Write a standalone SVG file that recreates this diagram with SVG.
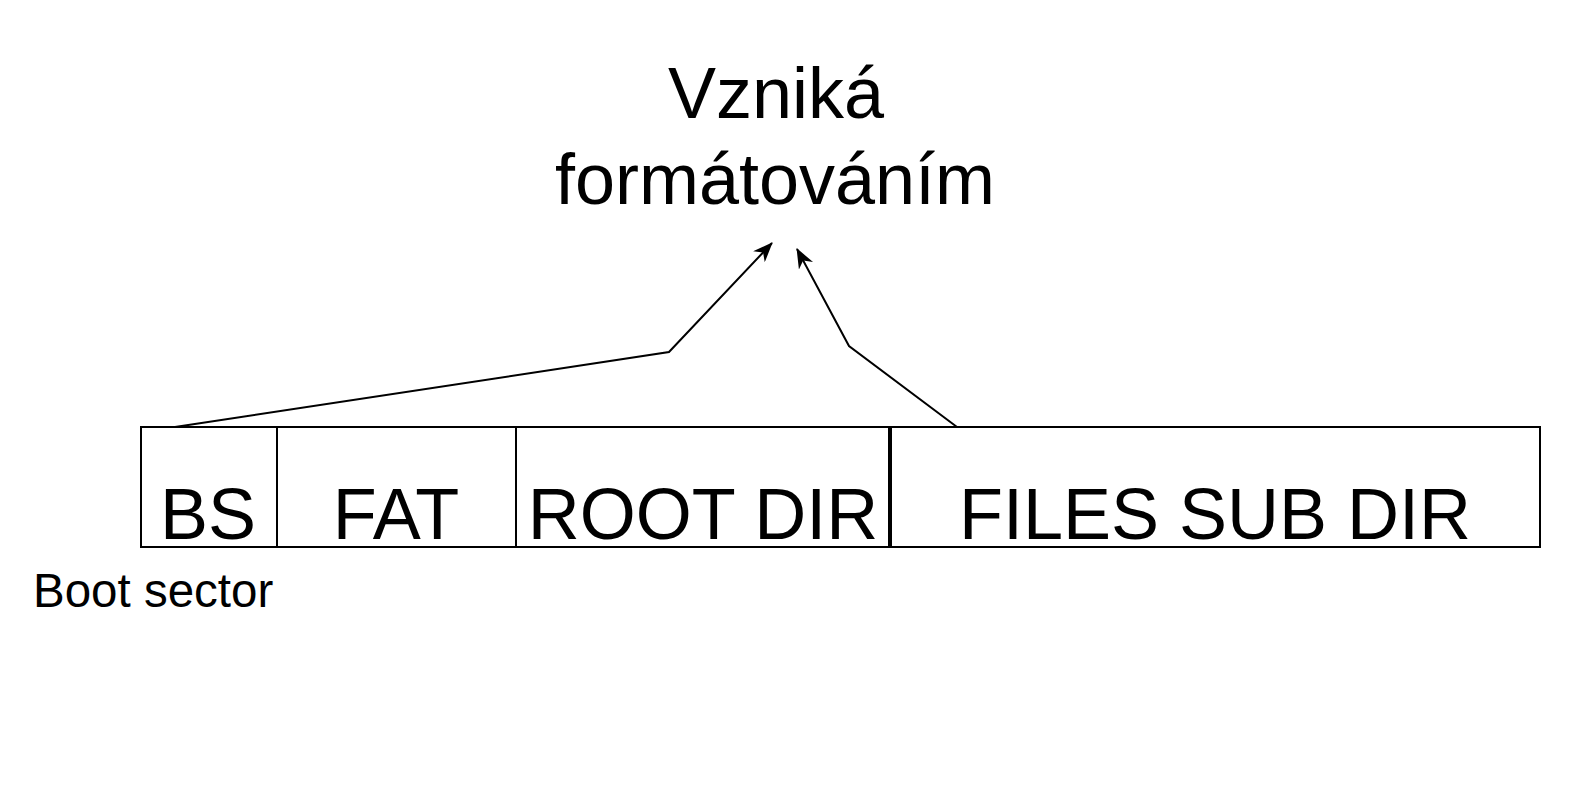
<svg xmlns="http://www.w3.org/2000/svg" width="1571" height="792" viewBox="0 0 1571 792">
<style>
.cell{fill:#fff;stroke:#000;stroke-width:2}
.big{font-family:"Liberation Sans",Arial,sans-serif;font-size:72px;fill:#000;text-anchor:middle}
.small{font-family:"Liberation Sans",Arial,sans-serif;font-size:47.5px;fill:#000}
.edge{fill:none;stroke:#000;stroke-width:2;marker-end:url(#arr)}
</style>
<defs>
<marker id="arr" viewBox="0 0 20 16" refX="19" refY="8" markerWidth="20" markerHeight="16" markerUnits="userSpaceOnUse" orient="auto">
<path d="M0,0 L20,8 L0,16 L6,8 Z" fill="#000"/>
</marker>
</defs>
<rect width="1571" height="792" fill="#fff"/>
<g id="title">
<text class="big" x="776" y="118">Vzniká</text>
<text class="big" x="775" y="204">formátováním</text>
</g>
<g id="connectors">
<polyline class="edge" points="175,427 669,352 772,243"/>
<polyline class="edge" points="957,427 849,346 797,249"/>
</g>
<g id="bs">
<rect class="cell" x="141" y="427" width="136" height="120"/>
<text class="big" x="208" y="539">BS</text>
</g>
<g id="fat">
<rect class="cell" x="277" y="427" width="239" height="120"/>
<text class="big" x="396" y="539">FAT</text>
</g>
<g id="root">
<rect class="cell" x="516" y="427" width="373" height="120"/>
<text class="big" x="703" y="539">ROOT DIR</text>
</g>
<g id="files">
<rect class="cell" x="891" y="427" width="649" height="120"/>
<text class="big" x="1215" y="539">FILES SUB DIR</text>
</g>
<g id="bootsector">
<text class="small" x="33" y="607">Boot sector</text>
</g>
</svg>
